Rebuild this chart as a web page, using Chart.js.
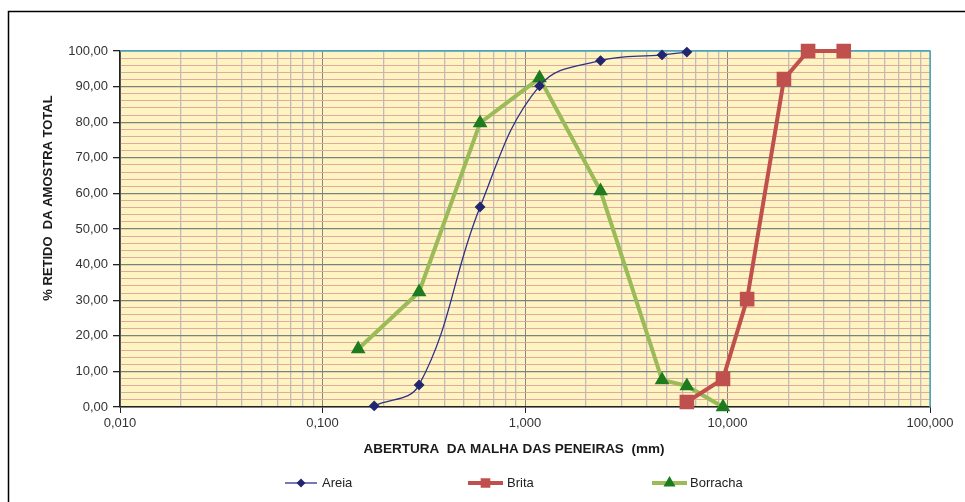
<!DOCTYPE html>
<html lang="pt">
<head>
    <meta charset="UTF-8">
    <title>Granulometria</title>
    <script src="https://cdn.jsdelivr.net/npm/chart.js"></script>
    <style>
        body {
            margin: 0;
            background-color: #fff;
        }
        #wrap {
            width: 965px;
            height: 502px;
        }
    </style>
</head>
<body>
    <div id="wrap">
        <canvas id="granCanvas" width="965" height="502"></canvas>
    </div>

    <script>
        // Abertura das peneiras (mm) e % retido de cada material
        const areiaAbertura = [0.18, 0.30, 0.60, 1.18, 2.36, 4.75, 6.3];
        const areiaRetido = [0.3, 6.2, 56.2, 90.2, 97.3, 98.9, 99.7];

        const britaAbertura = [6.3, 9.5, 12.5, 19, 25, 37.5];
        const britaRetido = [1.4, 7.9, 30.3, 92.1, 100, 100];

        const borrachaAbertura = [0.15, 0.30, 0.60, 1.18, 2.36, 4.75, 6.3, 9.5];
        const borrachaRetido = [16.3, 32.3, 79.8, 92.4, 60.7, 7.6, 5.9, 0];

        const xMin = 0.01;
        const xMax = 100;
        const yTitle = '% RETIDO  DA AMOSTRA TOTAL';
        const xTitle = 'ABERTURA  DA MALHA DAS PENEIRAS  (mm)';

        const fontFamily = '"Liberation Sans", Arial, sans-serif';

        function toPoints(xs, ys) {
            return xs.map((x, i) => ({ x: x, y: ys[i] }));
        }

        function isDecade(v) {
            const l = Math.log10(v);
            return Math.abs(l - Math.round(l)) < 1e-9;
        }

        // Fundo amarelo, moldura e bordas azuis do gráfico
        const backgroundPlugin = {
            id: 'background',
            beforeDraw(chart) {
                const c = chart.ctx;
                const a = chart.chartArea;
                c.save();
                c.fillStyle = '#fff';
                c.fillRect(0, 0, chart.width, chart.height);
                c.strokeStyle = '#000';
                c.lineWidth = 1.5;
                c.strokeRect(8.5, 11.5, 1000, 600);
                c.fillStyle = '#FDF4C2';
                c.fillRect(a.left, a.top, a.right - a.left, a.bottom - a.top);
                c.restore();
            },
            beforeDatasetsDraw(chart) {
                const c = chart.ctx;
                const a = chart.chartArea;
                c.save();
                c.strokeStyle = '#4BACC6';
                c.lineWidth = 1.5;
                c.beginPath();
                c.moveTo(a.left, a.top);
                c.lineTo(a.right, a.top);
                c.lineTo(a.right, a.bottom);
                c.stroke();
                c.restore();
            }
        };

        // Títulos dos eixos e legenda no estilo do Excel
        const labelsPlugin = {
            id: 'labels',
            afterDraw(chart) {
                const c = chart.ctx;
                c.save();
                c.fillStyle = '#1a1a1a';
                c.font = 'bold 13.5px ' + fontFamily;
                c.textAlign = 'center';
                c.textBaseline = 'middle';
                c.fillText(xTitle, 514, 449);
                c.font = 'bold 13px ' + fontFamily;
                c.translate(48, 198);
                c.rotate(-Math.PI / 2);
                c.fillText(yTitle, 0, 0);
                c.restore();

                const items = [
                    { ds: 0, x1: 285, x2: 317, tx: 322 },
                    { ds: 1, x1: 468, x2: 503, tx: 507 },
                    { ds: 2, x1: 652, x2: 687, tx: 690 }
                ];
                const ly = 483;
                items.forEach(it => {
                    const ds = chart.data.datasets[it.ds];
                    c.save();
                    c.strokeStyle = ds.borderColor;
                    c.lineWidth = ds.borderWidth;
                    c.beginPath();
                    c.moveTo(it.x1, ly);
                    c.lineTo(it.x2, ly);
                    c.stroke();
                    c.fillStyle = ds.pointBackgroundColor;
                    c.strokeStyle = ds.pointBorderColor;
                    Chart.helpers.drawPoint(c, {
                        pointStyle: ds.pointStyle,
                        radius: ds.legendRadius,
                        borderWidth: 1
                    }, (it.x1 + it.x2) / 2, ly);
                    c.restore();
                    c.save();
                    c.fillStyle = '#222';
                    c.font = '13px ' + fontFamily;
                    c.textAlign = 'left';
                    c.textBaseline = 'middle';
                    c.fillText(ds.label, it.tx, ly);
                    c.restore();
                });
            }
        };

        const ctx = document.getElementById('granCanvas').getContext('2d');
        const granChart = new Chart(ctx, {
            type: 'scatter',
            data: {
                datasets: [
                    {
                        label: 'Areia',
                        data: toPoints(areiaAbertura, areiaRetido),
                        showLine: true,
                        tension: 0.4,
                        borderColor: '#2E3188',
                        borderWidth: 1.3,
                        pointStyle: 'rectRot',
                        pointRadius: 4.5,
                        legendRadius: 3.5,
                        pointBackgroundColor: '#22266E',
                        pointBorderColor: '#22266E'
                    },
                    {
                        label: 'Brita',
                        data: toPoints(britaAbertura, britaRetido),
                        showLine: true,
                        borderColor: '#C0504D',
                        borderWidth: 4,
                        pointStyle: 'rect',
                        pointRadius: 7.5,
                        legendRadius: 4,
                        pointBackgroundColor: '#C0504D',
                        pointBorderColor: '#C0504D'
                    },
                    {
                        label: 'Borracha',
                        data: toPoints(borrachaAbertura, borrachaRetido),
                        showLine: true,
                        borderColor: '#9BBB59',
                        borderWidth: 4,
                        pointStyle: 'triangle',
                        pointRadius: 4.5,
                        legendRadius: 3,
                        pointBackgroundColor: '#1E7B1E',
                        pointBorderColor: '#1E7B1E'
                    }
                ]
            },
            options: {
                responsive: false,
                animation: false,
                clip: false,
                layout: {
                    padding: { top: 51, right: 35, left: 0, bottom: 0 }
                },
                plugins: {
                    legend: { display: false },
                    tooltip: { enabled: false }
                },
                scales: {
                    x: {
                        type: 'logarithmic',
                        min: xMin,
                        max: xMax,
                        afterBuildTicks: (scale) => {
                            const ticks = [];
                            for (let e = -2; e < 2; e++) {
                                for (let m = 1; m < 10; m++) {
                                    ticks.push({ value: m * Math.pow(10, e) });
                                }
                            }
                            ticks.push({ value: xMax });
                            scale.ticks = ticks;
                        },
                        afterFit: (scale) => { scale.height = 95; },
                        ticks: {
                            autoSkip: false,
                            maxRotation: 0,
                            padding: 3,
                            color: '#333',
                            font: { family: fontFamily, size: 13 },
                            callback: (v) => isDecade(v) ? v.toFixed(3).replace('.', ',') : ''
                        },
                        grid: {
                            color: (c) => isDecade(c.tick.value) ? '#868686' : '#BDBDBD',
                            lineWidth: (c) => isDecade(c.tick.value) ? 1 : 1.3,
                            tickLength: 6,
                            tickColor: (c) => isDecade(c.tick.value) ? '#222' : 'rgba(0,0,0,0)'
                        },
                        border: { color: '#222', width: 1.5 }
                    },
                    y: {
                        min: 0,
                        max: 100,
                        afterFit: (scale) => { scale.width = 120; },
                        ticks: {
                            stepSize: 2,
                            autoSkip: false,
                            padding: 5,
                            color: '#333',
                            font: { family: fontFamily, size: 13 },
                            callback: (v) => v % 10 === 0 ? v.toFixed(2).replace('.', ',') : ''
                        },
                        grid: {
                            color: (c) => c.tick.value % 10 === 0 ? '#7F7F7F' : '#E2A9A1',
                            lineWidth: (c) => c.tick.value % 10 === 0 ? 1.3 : 1,
                            tickLength: 7,
                            tickColor: (c) => c.tick.value % 10 === 0 ? '#222' : 'rgba(0,0,0,0)'
                        },
                        border: { color: '#222', width: 1.5 }
                    }
                }
            },
            plugins: [backgroundPlugin, labelsPlugin]
        });
    </script>
</body>
</html>
